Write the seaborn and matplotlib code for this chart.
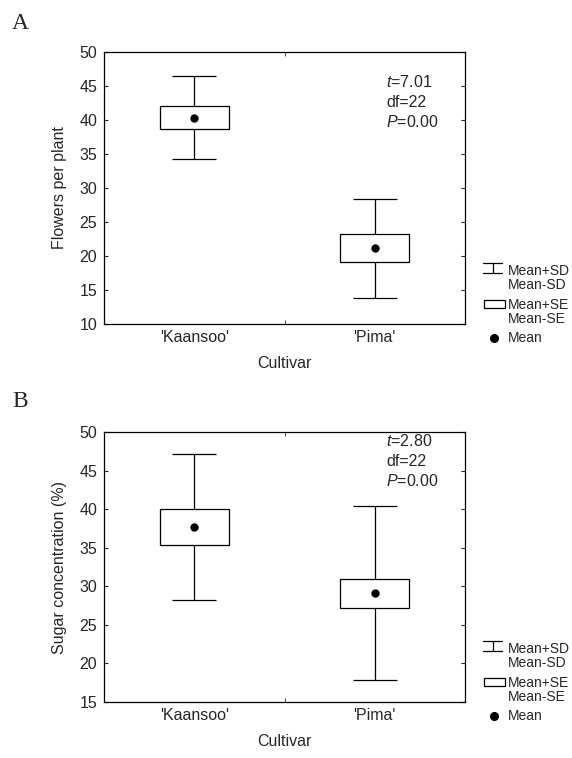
import numpy as np
import pandas as pd
import matplotlib
matplotlib.use("Agg")
import matplotlib.pyplot as plt
import seaborn as sns
from matplotlib.lines import Line2D
from matplotlib.patches import Rectangle

# values
cultivars = ["'Kaansoo'", "'Pima'"]

flowers_mean = [40.35, 21.15]
flowers_se = [1.7, 2.05]
flowers_sd = [6.05, 7.3]

sugar_mean = [37.7, 29.1]
sugar_se = [2.3, 1.9]
sugar_sd = [9.45, 11.3]

flowers_stats = [r"$t$=7.01", "df=22", r"$P$=0.00"]
sugar_stats = [r"$t$=2.80", "df=22", r"$P$=0.00"]

flowers_ticks = [10, 15, 20, 25, 30, 35, 40, 45, 50]
sugar_ticks = [15, 20, 25, 30, 35, 40, 45, 50]

legend_labels = ["Mean+SD\nMean-SD", "Mean+SE\nMean-SE", "Mean"]

sns.set_style("ticks")
plt.rcParams["font.family"] = ["Liberation Sans", "DejaVu Sans"]
plt.rcParams["mathtext.fontset"] = "custom"
plt.rcParams["mathtext.rm"] = "Liberation Sans"
plt.rcParams["mathtext.it"] = "Liberation Sans:italic"

W, H = 572, 758
fig = plt.figure(figsize=(W / 100, H / 100), dpi=100)
fs = 11.5
lfs = 10


def fx(px):
    return px / W


def fy(py):
    return 1 - py / H


def draw_panel(ax, means, ses, sds, ticks, ylabel, stats, stats_y):
    df = pd.DataFrame({"cultivar": cultivars, "mean": means, "se": ses, "sd": sds})
    x = np.arange(len(df))
    ax.errorbar(x, df["mean"], yerr=df["sd"], fmt="none", ecolor="black",
                elinewidth=0.9, capsize=15.5, capthick=0.9, zorder=1)
    ax.bar(x, 2 * df["se"], bottom=df["mean"] - df["se"], width=0.38,
           color="white", edgecolor="black", linewidth=0.9, zorder=2)
    sns.scatterplot(x=x, y=df["mean"], ax=ax, color="black", s=36,
                    linewidth=0, zorder=3, legend=False)

    ax.set_xlim(-0.5, 1.5)
    ax.set_ylim(ticks[0], ticks[-1])
    ax.set_yticks(ticks)
    ax.set_xticks(x)
    ax.set_xticklabels(cultivars)
    ax.set_xticks([0.5], minor=True)
    ax.tick_params(axis="x", which="major", length=0, pad=4, labelsize=fs)
    ax.tick_params(axis="x", which="minor", direction="in", length=3,
                   top=True, bottom=True)
    ax.tick_params(axis="y", direction="in", length=3, left=True, right=True,
                   pad=5, labelsize=fs)
    for sp in ax.spines.values():
        sp.set_visible(True)
        sp.set_color("black")
        sp.set_linewidth(0.9)
    ax.set_ylabel(ylabel, fontsize=fs, labelpad=9)
    ax.set_xlabel("Cultivar", fontsize=fs, labelpad=8)
    for s, yy in zip(stats, stats_y):
        ax.text(1.062, yy, s, fontsize=fs, va="baseline", ha="left")


def draw_legend(base):
    # base = pixel row of the axis bottom
    lw = 0.9
    x0, x1 = 483, 502
    xm = (x0 + x1) / 2
    fig.add_artist(Line2D([fx(x0), fx(x1)], [fy(base - 61)] * 2, color="black", lw=lw))
    fig.add_artist(Line2D([fx(x0), fx(x1)], [fy(base - 51)] * 2, color="black", lw=lw))
    fig.add_artist(Line2D([fx(xm), fx(xm)], [fy(base - 61), fy(base - 51)], color="black", lw=lw))
    fig.text(fx(508), fy(base - 46), legend_labels[0], fontsize=lfs, va="center",
             ha="left", linespacing=0.92)
    fig.add_artist(Rectangle((fx(484), fy(base - 16)), fx(21), 8 / H,
                             facecolor="white", edgecolor="black", lw=lw))
    fig.text(fx(508), fy(base - 12), legend_labels[1], fontsize=lfs, va="center",
             ha="left", linespacing=0.92)
    fig.add_artist(Line2D([fx(494)], [fy(base + 14)], marker="o", color="black",
                          markersize=5.5, linestyle="none"))
    fig.text(fx(508), fy(base + 14), legend_labels[2], fontsize=lfs, va="center",
             ha="left")


ax_a = fig.add_axes([fx(104), fy(324), fx(361), 272 / H])
draw_panel(ax_a, flowers_mean, flowers_se, flowers_sd, flowers_ticks,
           "Flowers per plant", flowers_stats, [44.85, 41.9, 38.97])
draw_legend(324)

ax_b = fig.add_axes([fx(104), fy(702), fx(361), 270 / H])
draw_panel(ax_b, sugar_mean, sugar_se, sugar_sd, sugar_ticks,
           "Sugar concentration (%)", sugar_stats, [48.2, 45.6, 43.0])
draw_legend(702)

fig.text(fx(12), fy(29), "A", fontsize=17, family="Liberation Serif", va="baseline")
fig.text(fx(12), fy(407), "B", fontsize=17, family="Liberation Serif", va="baseline")

fig.savefig("out.png", dpi=100)
